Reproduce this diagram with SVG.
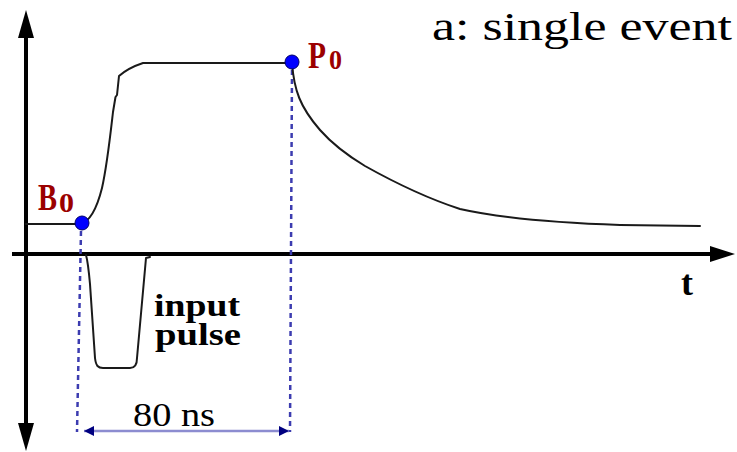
<svg xmlns="http://www.w3.org/2000/svg" width="737" height="452" viewBox="0 0 737 452">
<style>
.axis{stroke:#000;stroke-width:4;fill:none}
.sig{stroke:#1a1a1a;stroke-width:2;fill:none;stroke-linejoin:round;stroke-linecap:round}
.dash{stroke:#3c3cb0;stroke-width:2.5;stroke-dasharray:5,4;fill:none}
.dot{fill:#0000ff;stroke:#00006a;stroke-width:1}
.lbl{font-family:"Liberation Serif",serif;font-weight:bold;fill:#000}
.red{font-family:"Liberation Serif",serif;font-weight:bold;fill:#9b0000}
</style>
<defs>
<marker id="ah" viewBox="0 0 10 10" refX="10" refY="5" markerWidth="20" markerHeight="10" markerUnits="userSpaceOnUse" orient="auto-start-reverse">
<path d="M0,0 L10,5 L0,10 z" fill="#000080"/>
</marker>
</defs>
<g id="axes">
<line class="axis" x1="26" y1="36" x2="26" y2="424"/>
<path d="M26,10 L34,38 L18,38 z" fill="#000"/>
<path d="M26,451 L34,423 L18,423 z" fill="#000"/>
<line class="axis" x1="12" y1="254" x2="712" y2="254"/>
<path d="M735,254 L710,246 L710,262 z" fill="#000"/>
</g>
<g id="connectors">
<path class="dash" d="M81,231 L77,432"/>
<path class="dash" d="M292,70 L290,432"/>
<line x1="84" y1="431" x2="289" y2="431" stroke="#8c8cd0" stroke-width="2.5" marker-start="url(#ah)" marker-end="url(#ah)"/>
</g>
<g id="signal">
<path class="sig" d="M26,224 L80,224 C90,222 97,208 102,188 C107,166 110,138 113,112 L115.5,97 L117,95 L119,76 Q128,68 143,63 L291,63"/>
<path class="sig" d="M292,63 C294,90 300,107 320,130 C335,147 350,157 365,166 C390,180 420,196 460,209 C500,218 560,223 620,225 L700,226"/>
<path class="sig" d="M86,255 C88,262 89,273 90,284 L95,358 C96,366 98,368 103,368 L130,368 C135,368 137,364 137,358 L146,258 L150,257"/>
</g>
<g id="B0">
<circle class="dot" cx="82" cy="223" r="7"/>
<text class="red" x="38" y="210" font-size="37" textLength="19" lengthAdjust="spacingAndGlyphs">B</text>
<text class="red" x="59" y="212" font-size="28" textLength="15" lengthAdjust="spacingAndGlyphs">0</text>
</g>
<g id="P0">
<circle class="dot" cx="292" cy="62" r="7"/>
<text class="red" x="308" y="68" font-size="37" textLength="18" lengthAdjust="spacingAndGlyphs">P</text>
<text class="red" x="329" y="69" font-size="28" textLength="13" lengthAdjust="spacingAndGlyphs">0</text>
</g>
<g id="labels">
<text x="432" y="40" font-family="Liberation Serif,serif" font-size="39" textLength="300" lengthAdjust="spacingAndGlyphs">a: single event</text>
<text class="lbl" x="681" y="295" font-size="36">t</text>
<text class="lbl" x="154" y="316" font-size="31" textLength="86" lengthAdjust="spacingAndGlyphs">input</text>
<text class="lbl" x="155" y="345" font-size="31" textLength="86" lengthAdjust="spacingAndGlyphs">pulse</text>
<text x="133" y="426" font-family="Liberation Serif,serif" font-size="33" textLength="82" lengthAdjust="spacingAndGlyphs">80 ns</text>
</g>
</svg>
